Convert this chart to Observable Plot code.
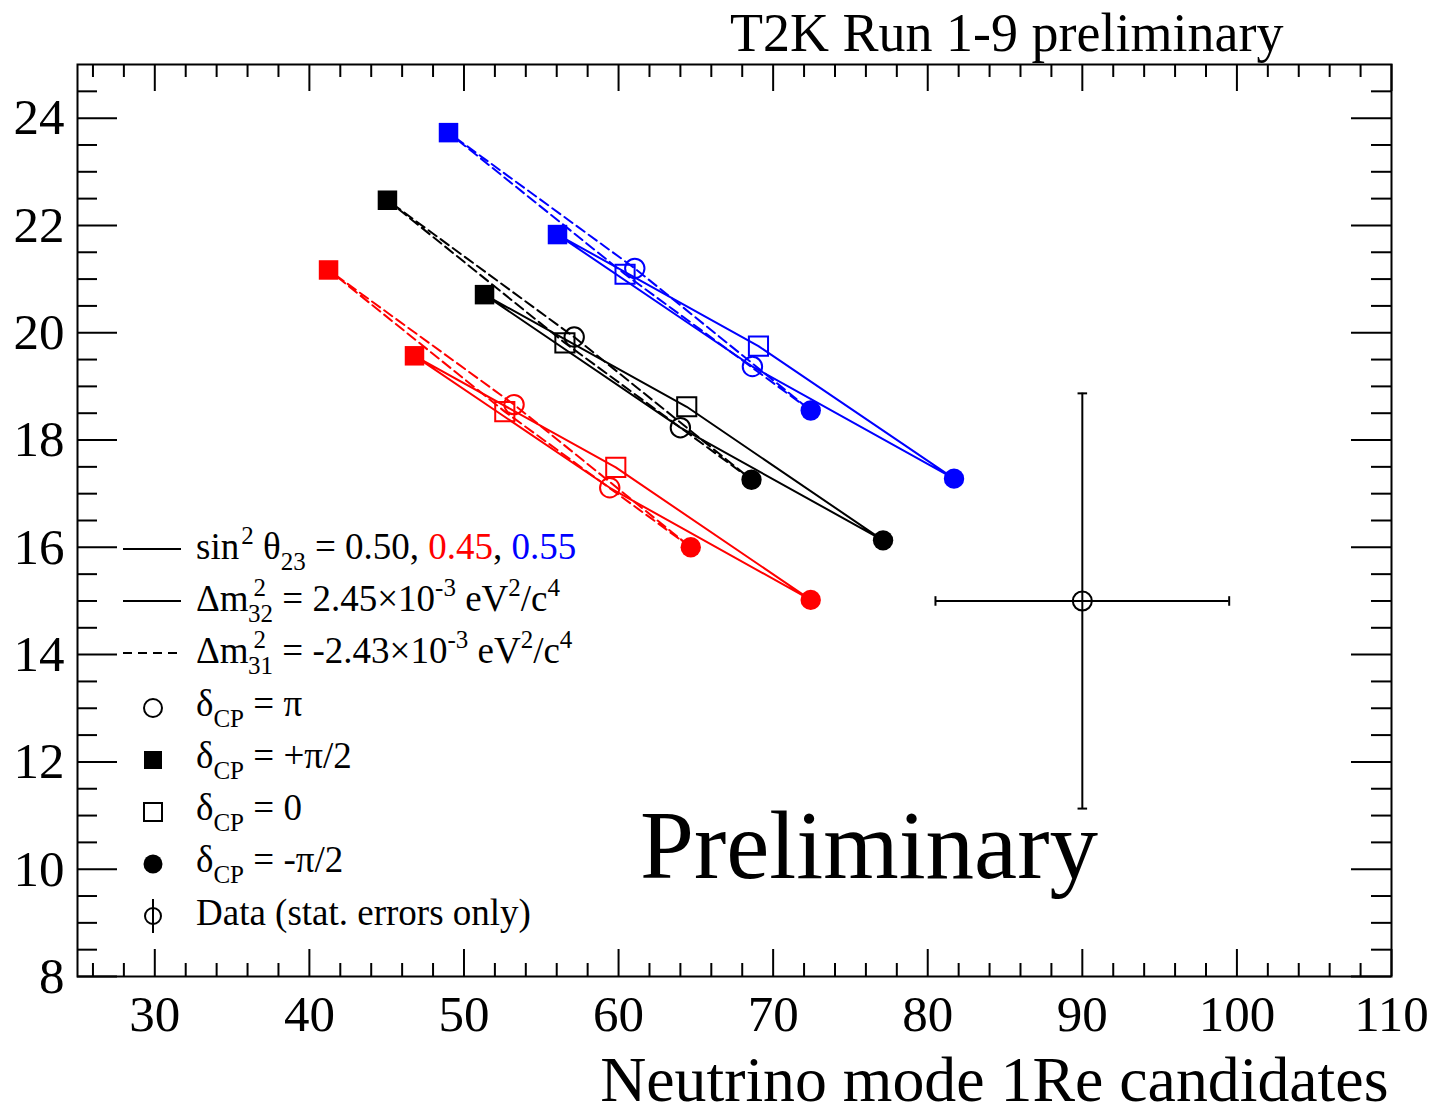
<!DOCTYPE html>
<html>
<head>
<meta charset="utf-8">
<script src="https://cdn.jsdelivr.net/npm/d3@7"></script>
<script src="https://cdn.jsdelivr.net/npm/@observablehq/plot@0.6"></script>
<style>
html, body { margin: 0; padding: 0; background: #ffffff; }
#chart svg { display: block; }
</style>
</head>
<body>
<div id="chart"></div>
<script>
// ---------------- data ----------------
// order of delta_CP values along each closed contour
const deltaCP = ["-π/2", "0", "+π/2", "π"];

// sin^2 theta23 = 0.50 (black)
const nh050X = [77.11, 64.41, 51.33, 64.00];
const nh050Y = [16.13, 18.62, 20.71, 18.23];
const ih050X = [68.60, 56.53, 45.05, 57.13];
const ih050Y = [17.26, 19.81, 22.47, 19.92];
// sin^2 theta23 = 0.45 (red)
const nh045X = [72.43, 59.82, 46.80, 59.43];
const nh045Y = [15.02, 17.49, 19.57, 17.11];
const ih045X = [64.67, 52.64, 41.24, 53.24];
const ih045Y = [16.00, 18.53, 21.17, 18.66];
// sin^2 theta23 = 0.55 (blue)
const nh055X = [81.70, 69.05, 56.05, 68.66];
const nh055Y = [17.28, 19.75, 21.83, 19.37];
const ih055X = [72.43, 60.42, 49.00, 61.05];
const ih055Y = [18.55, 21.09, 23.73, 21.20];

// observed data point (stat. errors only)
const dataX = [90];
const dataY = [15];
const dataXLow = [80.5];
const dataXHigh = [99.5];
const dataYLow = [11.13];
const dataYHigh = [18.87];

const thetaValues = ["0.50", "0.45", "0.55"];
const thetaColors = ["#000000", "#ff0000", "#0000ff"];

const xTickLabels = [30, 40, 50, 60, 70, 80, 90, 100, 110];
const yTickLabels = [8, 10, 12, 14, 16, 18, 20, 22, 24];
const xMinorTicks = d3.range(26, 110, 2).filter(v => v % 10 !== 0);
const yMinorTicks = d3.range(8.5, 25, 0.5).filter(v => v % 2 !== 0);

const titleText = "T2K Run 1-9 preliminary";
const xAxisTitle = "Neutrino mode 1Re candidates";
const watermark = ["Preliminary"];
const watermarkX = [76.2];
const watermarkY = [9.83];

// ---------------- build table ----------------
const seriesList = [
  {theta: "0.50", hier: "NH", xs: nh050X, ys: nh050Y},
  {theta: "0.50", hier: "IH", xs: ih050X, ys: ih050Y},
  {theta: "0.45", hier: "NH", xs: nh045X, ys: nh045Y},
  {theta: "0.45", hier: "IH", xs: ih045X, ys: ih045Y},
  {theta: "0.55", hier: "NH", xs: nh055X, ys: nh055Y},
  {theta: "0.55", hier: "IH", xs: ih055X, ys: ih055Y}
];
const rows = [];
for (const s of seriesList) {
  s.xs.forEach((x, i) => rows.push({x, y: s.ys[i], delta: deltaCP[i], theta: s.theta, hier: s.hier, series: s.theta + s.hier}));
}
const dataRows = dataX.map((x, i) => ({x, y: dataY[i], xl: dataXLow[i], xh: dataXHigh[i], yl: dataYLow[i], yh: dataYHigh[i]}));
const wmRows = watermark.map((t, i) => ({t, x: watermarkX[i], y: watermarkY[i]}));

// ---------------- layout ----------------
const W = 1430, H = 1114;
const mL = 77, mR = 39, mT = 64, mB = 138;
const fw = W - mL - mR, fh = H - mT - mB;
const majX = 27, minX = 13, majY = 40, minY = 20;

const hcap = {draw(ctx, size) { const w = Math.sqrt(size) / 2; ctx.moveTo(-w, 0); ctx.lineTo(w, 0); }};
const vcap = {draw(ctx, size) { const w = Math.sqrt(size) / 2; ctx.moveTo(0, -w); ctx.lineTo(0, w); }};

const plot = Plot.plot({
  width: W, height: H,
  marginLeft: mL, marginRight: mR, marginTop: mT, marginBottom: mB,
  style: {fontFamily: "'Liberation Serif', 'Times New Roman', serif", background: "#ffffff", color: "#000"},
  x: {domain: [25, 110]},
  y: {domain: [8, 25]},
  color: {domain: thetaValues, range: thetaColors},
  marks: [
    // ticks inside the frame (ROOT style)
    Plot.ruleX(xTickLabels, {stroke: "#000", strokeWidth: 2, insetTop: fh - majX}),
    Plot.ruleX(xTickLabels, {stroke: "#000", strokeWidth: 2, insetBottom: fh - majX}),
    Plot.ruleX(xMinorTicks, {stroke: "#000", strokeWidth: 2, insetTop: fh - minX}),
    Plot.ruleX(xMinorTicks, {stroke: "#000", strokeWidth: 2, insetBottom: fh - minX}),
    Plot.ruleY(yTickLabels, {stroke: "#000", strokeWidth: 2, insetRight: fw - majY}),
    Plot.ruleY(yTickLabels, {stroke: "#000", strokeWidth: 2, insetLeft: fw - majY}),
    Plot.ruleY(yMinorTicks, {stroke: "#000", strokeWidth: 2, insetRight: fw - minY}),
    Plot.ruleY(yMinorTicks, {stroke: "#000", strokeWidth: 2, insetLeft: fw - minY}),
    Plot.axisX({ticks: xTickLabels, tickSize: 0, tickPadding: 18, fontSize: 51, label: null, tickFormat: d => String(d)}),
    Plot.axisY({ticks: yTickLabels, tickSize: 0, tickPadding: 13, fontSize: 51, label: null, tickFormat: d => String(d)}),
    Plot.frame({stroke: "#000", strokeWidth: 2}),

    // contours
    Plot.line(rows.filter(d => d.hier === "NH"), {x: "x", y: "y", z: "series", stroke: "theta", strokeWidth: 2, curve: "linear-closed"}),
    Plot.line(rows.filter(d => d.hier === "IH"), {x: "x", y: "y", z: "series", stroke: "theta", strokeWidth: 2, strokeDasharray: "10,5", curve: "linear-closed"}),

    // markers
    Plot.dot(rows.filter(d => d.delta === "+π/2"), {x: "x", y: "y", symbol: "square", r: 11, fill: "theta", stroke: null}),
    Plot.dot(rows.filter(d => d.delta === "0"), {x: "x", y: "y", symbol: "square", r: 10.8, fill: "none", stroke: "theta", strokeWidth: 2}),
    Plot.dot(rows.filter(d => d.delta === "π"), {x: "x", y: "y", symbol: "circle", r: 9.7, fill: "none", stroke: "theta", strokeWidth: 2}),
    Plot.dot(rows.filter(d => d.delta === "-π/2"), {x: "x", y: "y", symbol: "circle", r: 10.2, fill: "theta", stroke: null}),

    // data point with error bars
    Plot.ruleY(dataRows, {y: "y", x1: "xl", x2: "xh", stroke: "#000", strokeWidth: 2}),
    Plot.ruleX(dataRows, {x: "x", y1: "yl", y2: "yh", stroke: "#000", strokeWidth: 2}),
    Plot.dot(dataRows, {x: "xl", y: "y", symbol: vcap, r: 5.4, stroke: "#000", strokeWidth: 2}),
    Plot.dot(dataRows, {x: "xh", y: "y", symbol: vcap, r: 5.4, stroke: "#000", strokeWidth: 2}),
    Plot.dot(dataRows, {x: "x", y: "yl", symbol: hcap, r: 5.4, stroke: "#000", strokeWidth: 2}),
    Plot.dot(dataRows, {x: "x", y: "yh", symbol: hcap, r: 5.4, stroke: "#000", strokeWidth: 2}),
    Plot.dot(dataRows, {x: "x", y: "y", symbol: "circle", r: 9.5, fill: "none", stroke: "#000", strokeWidth: 2}),

    // texts
    Plot.text(wmRows, {x: "x", y: "y", text: "t", fontSize: 97, textAnchor: "middle", lineAnchor: "bottom", fill: "#000"}),
    Plot.text([titleText], {frameAnchor: "top-right", dx: -108, dy: -14, text: d => d, fontSize: 54, textAnchor: "end", lineAnchor: "bottom", fill: "#000"}),
    Plot.text([xAxisTitle], {frameAnchor: "bottom-right", dx: -3, dy: 124, text: d => d, fontSize: 63.8, textAnchor: "end", lineAnchor: "bottom", fill: "#000"})
  ]
});
document.getElementById("chart").appendChild(plot);

// ---------------- legend (inside frame) ----------------
const svg = d3.select(plot);
const lg = svg.append("g")
  .attr("font-family", "'Liberation Serif', 'Times New Roman', serif")
  .attr("font-size", 37)
  .attr("text-anchor", "start")
  .attr("fill", "#000");

function rich(x, y, parts) {
  const t = lg.append("text").attr("x", x).attr("y", y).attr("text-anchor", "start").attr("xml:space", "preserve");
  let cur = 0;
  for (const p of parts) {
    const ts = t.append("tspan").text(p.t);
    const off = p.sup ? -15 : p.sub ? 11 : 0;
    const dy = off - cur; cur = off;
    if (dy) ts.attr("dy", dy);
    if (p.dx) ts.attr("dx", p.dx);
    if (p.sup || p.sub) ts.attr("font-size", 25);
    if (p.fill) ts.attr("fill", p.fill);
  }
}

const lx0 = 123, lx1 = 181, mx = 153, tx = 196;
const base = [559, 611, 663, 716, 768, 820, 872, 925];

lg.append("line").attr("x1", lx0).attr("x2", lx1).attr("y1", base[0] - 10).attr("y2", base[0] - 10).attr("stroke", "#000").attr("stroke-width", 2);
lg.append("line").attr("x1", lx0).attr("x2", lx1).attr("y1", base[1] - 10).attr("y2", base[1] - 10).attr("stroke", "#000").attr("stroke-width", 2);
lg.append("line").attr("x1", lx0).attr("x2", lx1).attr("y1", base[2] - 10).attr("y2", base[2] - 10).attr("stroke", "#000").attr("stroke-width", 2).attr("stroke-dasharray", "9,6");

rich(tx, base[0], [{t: "sin"}, {t: "2", sup: true, dx: 2}, {t: " θ"}, {t: "23", sub: true}, {t: " = 0.50, "}, {t: "0.45", fill: "#ff0000"}, {t: ", "}, {t: "0.55", fill: "#0000ff"}]);
rich(tx, base[1], [{t: "Δm"}, {t: "2", sup: true, dx: 5}, {t: "32", sub: true, dx: -18}, {t: " = 2.45×10"}, {t: "-3", sup: true}, {t: " eV"}, {t: "2", sup: true}, {t: "/c"}, {t: "4", sup: true}]);
rich(tx, base[2], [{t: "Δm"}, {t: "2", sup: true, dx: 5}, {t: "31", sub: true, dx: -18}, {t: " = -2.43×10"}, {t: "-3", sup: true}, {t: " eV"}, {t: "2", sup: true}, {t: "/c"}, {t: "4", sup: true}]);

// marker samples
lg.append("circle").attr("cx", mx).attr("cy", base[3] - 8).attr("r", 9).attr("fill", "none").attr("stroke", "#000").attr("stroke-width", 2);
lg.append("rect").attr("x", mx - 9).attr("y", base[4] - 8 - 9).attr("width", 18).attr("height", 18).attr("fill", "#000");
lg.append("rect").attr("x", mx - 9).attr("y", base[5] - 8 - 9).attr("width", 18).attr("height", 18).attr("fill", "none").attr("stroke", "#000").attr("stroke-width", 2);
lg.append("circle").attr("cx", mx).attr("cy", base[6] - 8).attr("r", 9.5).attr("fill", "#000");
lg.append("circle").attr("cx", mx).attr("cy", base[7] - 9).attr("r", 8).attr("fill", "none").attr("stroke", "#000").attr("stroke-width", 2);
lg.append("line").attr("x1", mx).attr("x2", mx).attr("y1", base[7] - 26).attr("y2", base[7] + 8).attr("stroke", "#000").attr("stroke-width", 2);

rich(tx, base[3], [{t: "δ"}, {t: "CP", sub: true}, {t: " = π"}]);
rich(tx, base[4], [{t: "δ"}, {t: "CP", sub: true}, {t: " = +π/2"}]);
rich(tx, base[5], [{t: "δ"}, {t: "CP", sub: true}, {t: " = 0"}]);
rich(tx, base[6], [{t: "δ"}, {t: "CP", sub: true}, {t: " = -π/2"}]);
rich(tx, base[7], [{t: "Data (stat. errors only)"}]);
</script>
</body>
</html>
